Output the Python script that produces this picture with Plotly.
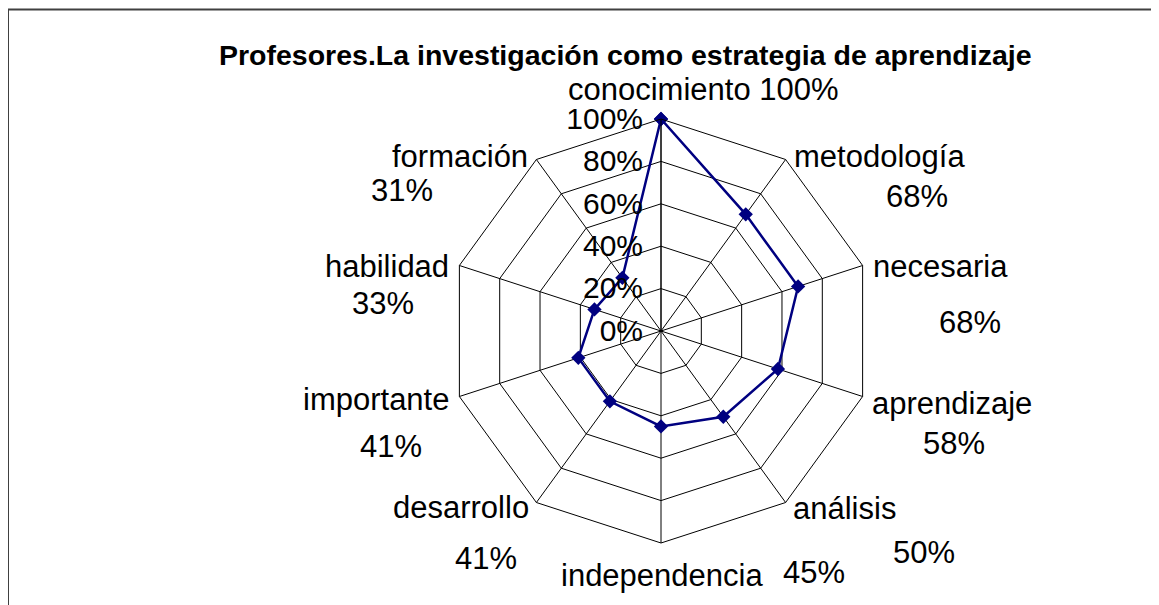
import plotly.graph_objects as go

categories = ["conocimiento", "metodología", "necesaria", "aprendizaje", "análisis",
              "independencia", "desarrollo", "importante", "habilidad", "formación"]
values = [1.00, 0.68, 0.68, 0.58, 0.50, 0.45, 0.41, 0.41, 0.33, 0.31]
value_labels = ["100%", "68%", "68%", "58%", "50%", "45%", "41%", "41%", "33%", "31%"]
radial_ticks = [0, 0.2, 0.4, 0.6, 0.8, 1.0]
radial_ticktext = ["0%", "20%", "40%", "60%", "80%", "100%"]
title_text = "Profesores.La investigación como estrategia de aprendizaje"

# page body has an 8px margin; figure sized to fit the window
OFF = 8
W, H = 1159 - OFF, 605 - OFF


def px(x):
    return (x - OFF) / W


def py(y):
    return 1 - (y - OFF) / H


# label layout (window pixel centers): category name, then value
name_pos = [(703, 90), (879, 157), (940, 266), (952, 403), (844, 508),
            (662, 575), (461, 507), (376, 399), (387, 266), (460, 156)]
val_pos = [None, (917, 197), (970, 322), (954, 443), (924, 552),
           (814, 572), (486, 558), (391, 446), (383, 303), (402, 190)]

cx, cy, R = 661, 331, 212
FONT = "Liberation Sans, Arial"

fig = go.Figure()
fig.add_trace(go.Scatterpolar(
    r=values + [values[0]],
    theta=categories + [categories[0]],
    mode="lines+markers",
    line=dict(color="#000080", width=2.5),
    marker=dict(symbol="diamond", size=11, color="#000080"),
    showlegend=False,
    hoverinfo="skip",
))

annotations = []
for i, cat in enumerate(categories):
    txt = cat + " " + value_labels[i] if val_pos[i] is None else cat
    x, y = name_pos[i]
    annotations.append(dict(x=px(x), y=py(y), xref="paper", yref="paper",
                            text=txt, showarrow=False, xanchor="center", yanchor="middle",
                            font=dict(size=31, color="black", family=FONT)))
    if val_pos[i] is not None:
        x, y = val_pos[i]
        annotations.append(dict(x=px(x), y=py(y), xref="paper", yref="paper",
                                text=value_labels[i], showarrow=False, xanchor="center", yanchor="middle",
                                font=dict(size=31, color="black", family=FONT)))

annotations.append(dict(x=px(625), y=py(55), xref="paper", yref="paper",
                        text="<b>" + title_text + "</b>", showarrow=False,
                        xanchor="center", yanchor="middle",
                        font=dict(size=28.5, color="black", family=FONT)))

fig.update_layout(
    width=W, height=H,
    margin=dict(l=0, r=0, t=0, b=0),
    paper_bgcolor="white",
    plot_bgcolor="white",
    font=dict(family=FONT, color="black"),
    annotations=annotations,
    shapes=[dict(type="rect", xref="paper", yref="paper",
                 x0=px(8), x1=px(1153), y0=-0.05, y1=py(9.5),
                 line=dict(color="#404040", width=2), fillcolor="rgba(0,0,0,0)")],
    polar=dict(
        domain=dict(x=[px(cx - R), px(cx + R)], y=[py(cy + R), py(cy - R)]),
        bgcolor="white",
        gridshape="linear",
        radialaxis=dict(range=[0, 1], tickvals=radial_ticks, ticktext=radial_ticktext,
                        angle=90, tickangle=90, side="counterclockwise",
                        showline=True, linecolor="black", linewidth=1,
                        gridcolor="black", gridwidth=1,
                        ticks="outside", ticklen=7, tickcolor="rgba(0,0,0,0)",
                        tickfont=dict(size=30, color="black", family=FONT)),
        angularaxis=dict(direction="clockwise", rotation=90, showticklabels=False,
                         ticks="", showline=True, linecolor="black", linewidth=1,
                         gridcolor="black", gridwidth=1),
    ),
)

fig.write_html("out.html")
